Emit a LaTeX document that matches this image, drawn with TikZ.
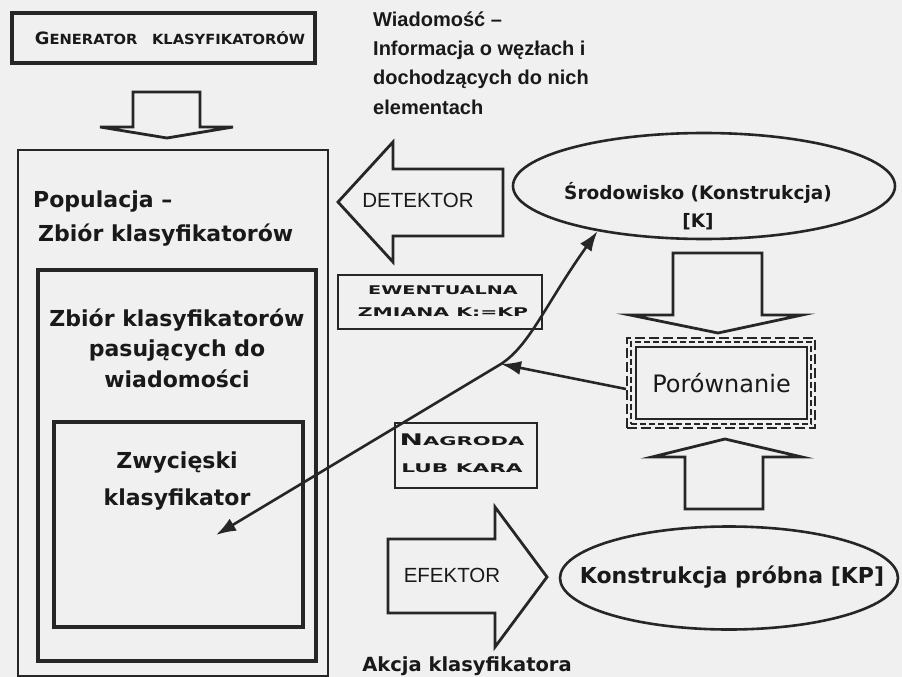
\documentclass[tikz,border=0pt]{standalone}
\usepackage{fontspec}
\usepackage{graphicx}
\setmainfont{DejaVu Sans}
\newfontfamily\arialf{Liberation Sans}
\usetikzlibrary{shapes.geometric,arrows.meta}
\tikzset{
  ink/.style={draw=black!85},
  boxthick/.style={ink, line width=3.2pt, inner sep=0pt, fill=none},
  boxthin/.style={ink, line width=2.2pt, inner sep=0pt},
  blockarrow/.style={ink, line width=2.8pt, line join=miter},
  conn/.style={ink, line width=2.6pt, {Latex[length=20pt,width=14pt]}-{Latex[length=20pt,width=14pt]}},
  conn1/.style={ink, line width=2.6pt, -{Latex[length=20pt,width=14pt]}},
  bigbold/.style={text=black!90, inner sep=0pt, align=center, font=\fontsize{22}{30.5}\selectfont\bfseries},
  envbold/.style={text=black!90, inner sep=0pt, align=center, font=\fontsize{18.5}{28}\selectfont\bfseries},
  msg/.style={text=black!90, inner sep=0pt, align=left, font=\arialf\fontsize{20}{29.4}\selectfont\bfseries},
  arialtxt/.style={text=black!90, inner sep=0pt, font=\arialf\fontsize{20.5}{24}\selectfont},
  capsbox/.style={text=black!90, inner sep=0pt, align=center, font=\fontsize{12}{22}\selectfont\bfseries},
}
\begin{document}
\begin{tikzpicture}[x=1pt,y=-1pt]
\fill[black!6] (0,0) rectangle (902,677);
\useasboundingbox (0,0) rectangle (902,677);

% Generator
\node[boxthick, minimum width=303, minimum height=50] (gen) at (163.5,38) {};
\node[text=black!90, inner sep=0pt, font=\bfseries] (gent) at (170,38)
  {\scalebox{1.05}[1]{{\fontsize{17}{17}\selectfont G}{\fontsize{14}{14}\selectfont ENERATOR\hspace{14pt}KLASYFIKATORÓW}}};

% down block arrow from generator
\draw[blockarrow] (133,92) -- (200,92) -- (200,127) -- (233,127) -- (167,138) -- (100,127) -- (133,127) -- cycle;

% Population boxes
\node[ink, line width=2.6pt, inner sep=0pt, minimum width=310, minimum height=526] (pop) at (173,413) {};
\node[boxthick, minimum width=278, minimum height=391] (match) at (177,465.5) {};
\node[boxthick, minimum width=249, minimum height=205] (win) at (178.5,524.5) {};

\node[bigbold, anchor=west] (popt) at (33,202) {Populacja –};
\node[bigbold, anchor=west] (popt2) at (38,235) {Zbiór klasyfikatorów};
\node[bigbold] (matcht) at (177,348) {Zbiór klasyfikatorów\\pasujących do\\wiadomości};
\node[bigbold, font=\fontsize{22}{37}\selectfont\bfseries] (wint) at (177,481) {Zwycięski\\klasyfikator};

% Message text
\node[msg, anchor=west] (msgt) at (373,63) {Wiadomość –\\Informacja o węzłach i\\dochodzących do nich\\elementach};

% Detector block arrow
\draw[blockarrow] (503,169) -- (393,169) -- (393,142) -- (338,202) -- (393,262) -- (393,236) -- (503,236) -- cycle;
\node[arialtxt] (det) at (418,200) {DETEKTOR};

% Environment ellipse
\node[ink, ellipse, line width=2.6pt, inner sep=0pt, minimum width=382, minimum height=106] (env) at (704,186) {};
\node[envbold] (envt) at (698,206) {Środowisko (Konstrukcja)\\{[K]}};

% Ewentualna zmiana
\node[boxthin, minimum width=204, minimum height=54] (ew) at (440,302) {};
\node[capsbox] (ewt) at (443,301) {\scalebox{1.6}[1]{EWENTUALNA}\\\scalebox{1.7}[1]{ZMIANA K:=KP}};

% Nagroda
\node[boxthin, minimum width=142, minimum height=65] (nag) at (466,455.5) {};
\node[capsbox, font=\fontsize{12}{27}\selectfont\bfseries] (nagt) at (462,453.5) {\scalebox{1.75}[1]{{\fontsize{16}{16}\selectfont N}AGRODA}\\\scalebox{1.8}[1]{LUB KARA}};

% down block arrow env -> porownanie
\draw[blockarrow] (673,253) -- (762,253) -- (762,315) -- (802,315) -- (718,333) -- (630,315) -- (673,315) -- cycle;

% Porownanie
\node[ink, dashed, dash pattern=on 10pt off 4pt, line width=2pt, inner sep=0pt, minimum width=188, minimum height=90] (porbox) at (721,383) {};
\node[ink, dashed, dash pattern=on 6pt off 3pt, line width=1.4pt, inner sep=0pt, minimum width=180, minimum height=82] (pormid) at (721,383) {};
\node[ink, line width=1.8pt, inner sep=0pt, minimum width=171, minimum height=72, text=black!90, font=\fontsize{24}{24}\selectfont] (por) at (721.5,383) {Porównanie};

% up block arrow KP -> porownanie
\draw[blockarrow] (685,509) -- (763,509) -- (763,457) -- (802,457) -- (725,439) -- (652,457) -- (685,457) -- cycle;

% Konstrukcja probna
\node[ink, ellipse, line width=2.6pt, inner sep=0pt, minimum width=338, minimum height=103] (kp) at (729,578) {};
\node[bigbold] (kpt) at (732,577) {Konstrukcja próbna [KP]};

% Effector block arrow
\draw[blockarrow] (388,539) -- (495,539) -- (495,507) -- (547,577) -- (495,647) -- (495,613) -- (388,613) -- cycle;
\node[arialtxt] (eff) at (452,575) {EFEKTOR};

\node[text=black!90, inner sep=0pt, font=\fontsize{19.5}{19.5}\selectfont\bfseries] (akc) at (467,666) {Akcja klasyfikatora};

% connectors
\coordinate (jn) at (501,364);
\coordinate (wt) at (216,535);
\draw[conn] (env.203) .. controls (545,305) and (530,345) .. (jn) -- (wt);
\draw[conn1] ([shift={(0,6)}]porbox.west) -- (jn);
\end{tikzpicture}
\end{document}
